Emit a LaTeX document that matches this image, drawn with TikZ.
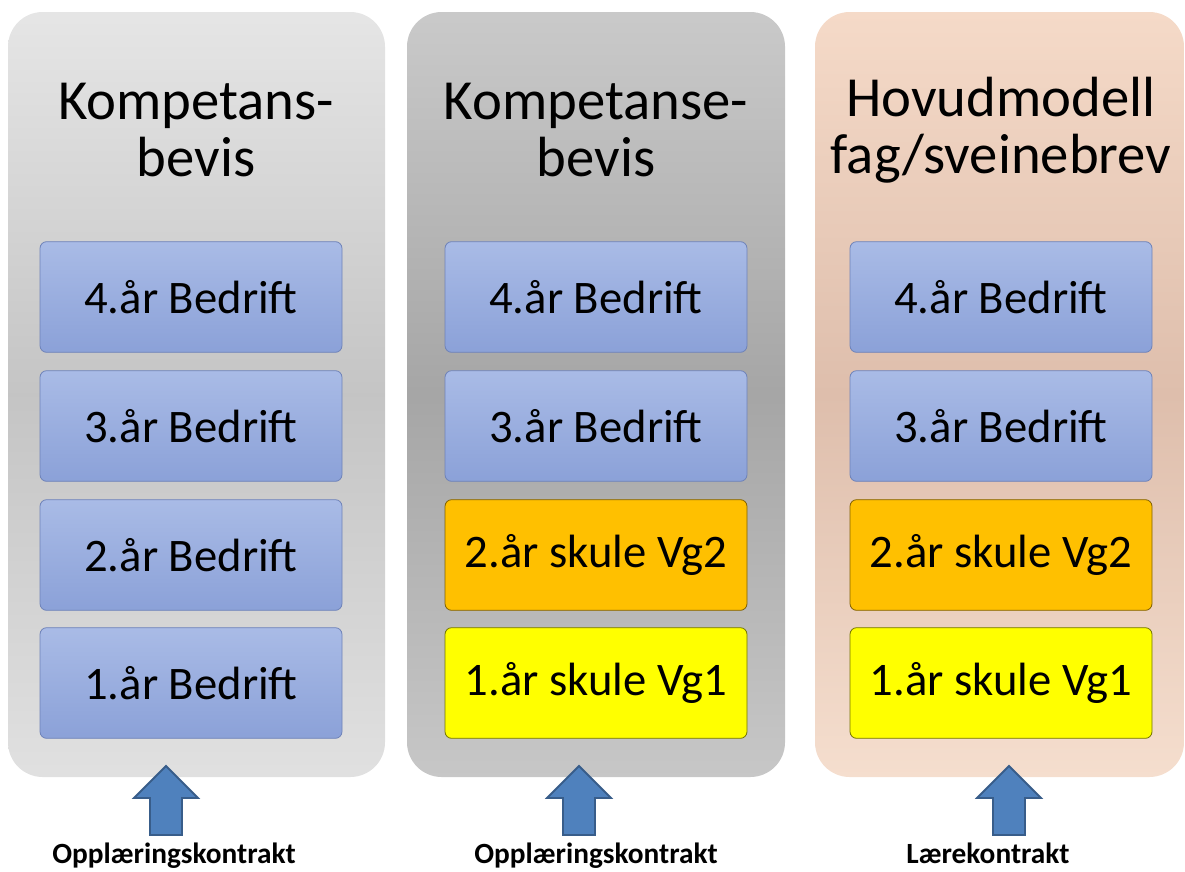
\documentclass[tikz,border=0pt]{standalone}
\usepackage{fontspec}
\setmainfont{Carlito}

\definecolor{bluetop}{HTML}{A9BBE6}
\definecolor{bluebot}{HTML}{8BA1D8}
\definecolor{blueline}{HTML}{6E82B8}
\definecolor{vgorange}{HTML}{FFC000}
\definecolor{vgyellow}{HTML}{FFFF00}
\definecolor{arrowfill}{HTML}{4F81BD}
\definecolor{arrowline}{HTML}{385D8A}

\begin{document}
\begin{tikzpicture}[x=0.75pt,y=-0.75pt,
	panel/.style={rounded corners=26pt},
	yearbox/.style={draw=#1,rounded corners=5pt,line width=0.6pt,
		minimum width=226.5pt,minimum height=83pt,inner sep=0pt,
		font=\fontsize{35}{40}\selectfont},
	bedrift/.style={yearbox=blueline,top color=bluetop,bottom color=bluebot},
	vgtwo/.style={yearbox=vgorange!50!black,fill=vgorange},
	vgone/.style={yearbox=vgyellow!45!black,fill=vgyellow},
	heading/.style={align=center,font=\fontsize{42.5}{43}\selectfont},
	contract/.style={anchor=base,inner sep=1pt,font=\bfseries\fontsize{22}{26}\selectfont}]
	\useasboundingbox (0,0) rectangle (1185,871);

	% background panels
	\shade[panel,top color=black!10,bottom color=black!12,middle color=black!23]
		(8,12) rectangle (385,777);
	\shade[panel,top color=black!21,bottom color=black!22,middle color=black!35]
		(407,12) rectangle (785,777);
	\shade[panel,top color={rgb,255:red,245;green,218;blue,200},
		bottom color={rgb,255:red,245;green,222;blue,206},
		middle color={rgb,255:red,222;green,190;blue,172}]
		(815,12) rectangle (1184,777);

	% headings
	\node[heading] (head1) at (196,130) {Kompetans-\\bevis};
	\node[heading] (head2) at (596,130) {Kompetanse-\\bevis};
	\node[heading] (head3) at (1001,130) {Hovudmodell\\fag/sveinebrev};

	% first column
	\node[bedrift] (a4) at (191,297) {4.år Bedrift};
	\node[bedrift] (a3) at (191,426) {3.år Bedrift};
	\node[bedrift] (a2) at (191,555) {2.år Bedrift};
	\node[bedrift] (a1) at (191,683) {1.år Bedrift};

	% second column
	\node[bedrift] (b4) at (596,297) {4.år Bedrift};
	\node[bedrift] (b3) at (596,426) {3.år Bedrift};
	\node[vgtwo] (b2) at (596,555) {2.år skule Vg2};
	\node[vgone] (b1) at (596,683) {1.år skule Vg1};

	% third column
	\node[bedrift] (c4) at (1001,297) {4.år Bedrift};
	\node[bedrift] (c3) at (1001,426) {3.år Bedrift};
	\node[vgtwo] (c2) at (1001,555) {2.år skule Vg2};
	\node[vgone] (c1) at (1001,683) {1.år skule Vg1};

	% contracts
	\node[contract] (k1) at (174,863) {Opplæringskontrakt};
	\node[contract] (k2) at (596,863) {Opplæringskontrakt};
	\node[contract] (k3) at (988,863) {Lærekontrakt};

	% block arrows
	\foreach \ax in {166,579,1009}
		\draw[fill=arrowfill,draw=arrowline,line width=1.4pt,line join=miter]
			(\ax,766) -- ++(32,32) -- ++(-16,0) -- ++(0,37) -- ++(-32,0)
			-- ++(0,-37) -- ++(-16,0) -- cycle;
\end{tikzpicture}
\end{document}
